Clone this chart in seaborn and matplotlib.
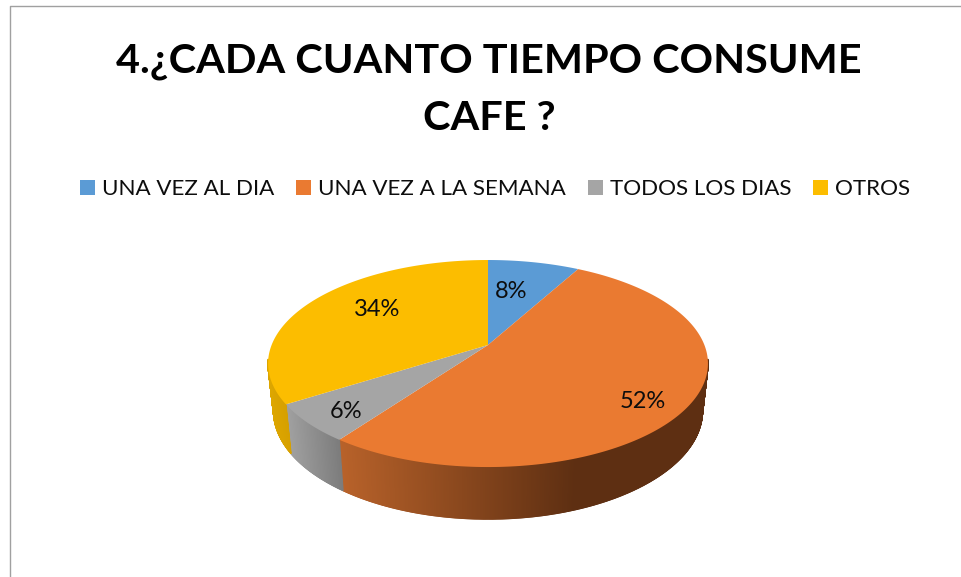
import numpy as np
import matplotlib
matplotlib.use("Agg")
import matplotlib.pyplot as plt
from matplotlib.collections import PolyCollection
from matplotlib.colors import to_rgb
from matplotlib.patches import Patch
from matplotlib.path import Path
from matplotlib.transforms import Transform
import seaborn as sns

# ---- data ----
TITLE = "4.¿CADA CUANTO TIEMPO CONSUME\nCAFE ?"
CATEGORIES = ["UNA VEZ AL DIA", "UNA VEZ A LA SEMANA", "TODOS LOS DIAS", "OTROS"]
VALUES = [8, 52, 6, 34]

# ---- style ----
COLORS = ["#5B9BD5", "#EA7A31", "#A5A5A5", "#FCBD00"]
SIDE_LIGHT = ["#3F6C95", "#B8622A", "#A0A0A0", "#DDA600"]
SIDE_DARK = ["#3F6C95", "#5E2F12", "#7C7C7C", "#D6A000"]
SIDE_FADE_END = 575        # x pixel where the side shading stops darkening
LABEL_XY = [(511, 292), (643, 402), (346, 412), (377, 310)]
APEX = (488.0, 345.0)
K, SCALE_X, SCALE_Y = 0.179, 216.4, 100.2
DEPTH_FRONT, DEPTH_SLOPE, FRONT_Y, BOTTOM_SCALE = 52.0, 0.047, 467.0, 0.975
RIM_FROM, RIM_TO = 98.0, 262.0   # part of the rim that can show, degrees clockwise from top

sns.set_theme(style="white")
plt.rcParams["font.family"] = ["Lato", "DejaVu Sans"]


class TiltedDisk(Transform):
    """Perspective view of the unit disk lying on a table."""
    input_dims = output_dims = 2
    is_affine = False

    def transform_non_affine(self, xy):
        xy = np.asarray(xy, float)
        w = 1 + K * xy[:, 1]
        return np.column_stack((APEX[0] + SCALE_X * xy[:, 0] / w,
                                APEX[1] - SCALE_Y * xy[:, 1] / w))

    def transform_path_non_affine(self, path):
        pts = [curve(np.linspace(0, 1, 24)) for curve, _ in path.iter_bezier()]
        return Path(self.transform_non_affine(np.vstack(pts)), closed=True)


def lower(p):
    """Point on the lower rim beneath a point p of the upper rim."""
    return (APEX[0] + BOTTOM_SCALE * (p[0] - APEX[0]),
            p[1] + DEPTH_FRONT - DEPTH_SLOPE * (FRONT_Y - p[1]))


fig = plt.figure(figsize=(9.61, 5.77), dpi=100, facecolor="white")
ax = fig.add_axes([0, 0, 1, 1])
disk = TiltedDisk()

wedges, _ = ax.pie(VALUES, colors=COLORS, startangle=90, counterclock=False,
                   frame=True, wedgeprops={"linewidth": 0, "zorder": 3})
for w in wedges:
    w.set_transform(disk + ax.transData)

ax.set_aspect("auto")
ax.set_xlim(0, 961)
ax.set_ylim(577, 0)
ax.set_xticks([])
ax.set_yticks([])
for s in ax.spines.values():
    s.set_visible(False)

# rim of the disk, shaded across its width
edges = np.cumsum([0] + VALUES) / sum(VALUES) * 360.0
for i in range(len(VALUES)):
    a0, a1 = max(edges[i], RIM_FROM), min(edges[i + 1], RIM_TO)
    if a1 <= a0:
        continue
    th = np.radians(np.linspace(a0, a1, max(int((a1 - a0) * 4), 2) + 1))
    rim = disk.transform(np.column_stack((np.sin(th), np.cos(th))))
    xs = rim[:, 0]
    span_left, span_right = xs.min(), min(xs.max(), SIDE_FADE_END)
    light, dark = np.array(to_rgb(SIDE_LIGHT[i])), np.array(to_rgb(SIDE_DARK[i]))
    polys, cols = [], []
    for p, q in zip(rim[:-1], rim[1:]):
        polys.append([p, q, lower(q), lower(p)])
        f = np.clip(((p[0] + q[0]) / 2 - span_left) / max(span_right - span_left, 1), 0, 1)
        cols.append(light + (dark - light) * f)
    ax.add_collection(PolyCollection(polys, facecolors=cols, edgecolors=cols,
                                     linewidths=1.0, zorder=2))

# percentage labels
for v, (x, y) in zip(VALUES, LABEL_XY):
    ax.text(x, y, f"{v}%", ha="center", va="center", fontsize=17,
            color="#0D0D0D", zorder=5)

# chart border (left and top only visible in the crop)
ax.plot([10, 10, 961], [577, 5.5, 5.5], color="#A0A0A0", lw=1.0, zorder=1)

ax.text(489, 90, TITLE, ha="center", va="center", fontsize=29.75,
        fontweight="bold", color="black", linespacing=1.64)

handles = [Patch(facecolor=c, edgecolor="none") for c in COLORS]
ax.legend(handles, CATEGORIES, ncol=4, loc="center", bbox_to_anchor=(495, 189),
          bbox_transform=ax.transData, frameon=False, fontsize=16.1,
          handlelength=0.67, handleheight=0.67, handletextpad=0.31,
          columnspacing=0.98, borderpad=0, labelcolor="#0D0D0D")

fig.savefig("out.png", dpi=100, facecolor="white")
